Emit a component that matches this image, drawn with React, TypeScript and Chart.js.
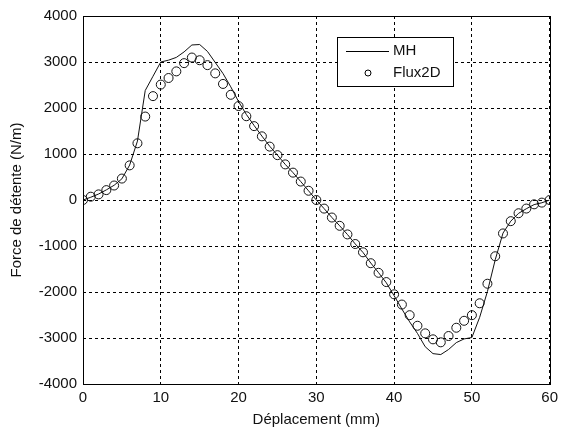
import React, { useEffect, useRef } from "react";
import { Chart, registerables } from "chart.js";

Chart.register(...registerables);

const displacement = [
  0, 1, 2, 3, 4, 5, 6, 7, 8, 9, 10, 11, 12, 13, 14, 15, 16, 17, 18, 19, 20,
  21, 22, 23, 24, 25, 26, 27, 28, 29, 30, 31, 32, 33, 34, 35, 36, 37, 38, 39, 40,
  41, 42, 43, 44, 45, 46, 47, 48, 49, 50, 51, 52, 53, 54, 55, 56, 57, 58, 59, 60,
];

const mhForce = [
  0, 60, 130, 220, 320, 460, 760, 1280, 2380, 2690, 3000,
  3040, 3100, 3220, 3370, 3380, 3230, 2990, 2750, 2460, 2140,
  1860, 1620, 1390, 1170, 975, 775, 595, 400, 200, 0,
  -187, -380, -560, -750, -955, -1140, -1370, -1580, -1800, -2080,
  -2370, -2650, -2900, -3190, -3340, -3360, -3250, -3100, -3020, -2990,
  -2550, -1990, -1300, -720, -460, -290, -190, -100, -60, 0,
];

const flux2dForce = [
  0, 72, 122, 215, 315, 466, 753, 1233, 1814, 2258, 2509,
  2652, 2796, 2975, 3097, 3039, 2932, 2753, 2523, 2287, 2043,
  1821, 1606, 1384, 1161, 975, 774, 595, 401, 201, 0,
  -187, -381, -561, -748, -957, -1137, -1374, -1583, -1784, -2050,
  -2273, -2504, -2734, -2899, -3029, -3094, -2957, -2777, -2626, -2504,
  -2245, -1820, -1223, -727, -460, -288, -186, -94, -57, 0,
];

const seriesLabels = ["MH", "Flux2D"];
const xTitle = "Déplacement (mm)";
const yTitle = "Force de détente (N/m)";

const FONT = "'Liberation Sans', Arial, sans-serif";

const boxAndLegend = {
  id: "boxAndLegend",
  afterDraw(chart: any) {
    const { ctx, chartArea } = chart;
    const { left, top, right, bottom } = chartArea;
    ctx.save();
    ctx.strokeStyle = "#000";
    ctx.lineWidth = 1;
    ctx.setLineDash([]);
    ctx.strokeRect(Math.round(left) + 0.5, Math.round(top) + 0.5, Math.round(right - left), Math.round(bottom - top));

    // legend box
    const lx = left + 254;
    const ly = top + 21;
    const lw = 116;
    const lh = 49;
    ctx.fillStyle = "#fff";
    ctx.fillRect(lx, ly, lw, lh);
    ctx.strokeRect(Math.round(lx) + 0.5, Math.round(ly) + 0.5, lw, lh);

    ctx.beginPath();
    ctx.moveTo(lx + 9, ly + 14.5);
    ctx.lineTo(lx + 52, ly + 14.5);
    ctx.stroke();

    ctx.beginPath();
    ctx.arc(lx + 31, ly + 36, 3, 0, Math.PI * 2);
    ctx.stroke();

    ctx.fillStyle = "#111";
    ctx.font = `15px ${FONT}`;
    ctx.textAlign = "left";
    ctx.textBaseline = "middle";
    ctx.fillText(seriesLabels[0], lx + 56, ly + 14);
    ctx.fillText(seriesLabels[1], lx + 56, ly + 36);
    ctx.restore();
  },
};

export default function App() {
  const ref = useRef<HTMLCanvasElement>(null);

  useEffect(() => {
    document.body.style.margin = "0";
    const canvas = ref.current!;
    const chart = new Chart(canvas, {
      type: "line",
      data: {
        datasets: [
          {
            label: seriesLabels[0],
            data: displacement.map((x, i) => ({ x, y: mhForce[i] })),
            borderColor: "#111",
            borderWidth: 1,
            pointRadius: 0,
            tension: 0,
            fill: false,
          },
          {
            label: seriesLabels[1],
            data: displacement.map((x, i) => ({ x, y: flux2dForce[i] })),
            showLine: false,
            pointStyle: "circle",
            pointRadius: 4.5,
            pointBorderWidth: 1,
            pointBorderColor: "#111",
            pointBackgroundColor: "rgba(0,0,0,0)",
          },
        ],
      },
      options: {
        animation: false,
        responsive: false,
        layout: { padding: { left: 0, top: 16, right: 11, bottom: 0 } },
        plugins: { legend: { display: false }, tooltip: { enabled: false } },
        scales: {
          x: {
            type: "linear",
            min: 0,
            max: 60,
            ticks: { stepSize: 10, color: "#111", padding: 5, font: { family: FONT, size: 15 }, callback: (v: any) => String(v) },
            grid: { color: "#000", drawTicks: false, lineWidth: 1 },
            border: { display: false, dash: [3, 3] },
            title: { display: true, text: xTitle, color: "#111", padding: { top: 0, bottom: 3 }, font: { family: FONT, size: 15 } },
            afterFit: (s: any) => { s.height = 48; },
          },
          y: {
            type: "linear",
            min: -4000,
            max: 4000,
            ticks: { stepSize: 1000, color: "#111", padding: 6, font: { family: FONT, size: 15 }, callback: (v: any) => String(v) },
            grid: { color: "#000", drawTicks: false, lineWidth: 1 },
            border: { display: false, dash: [3, 3] },
            title: { display: true, text: yTitle, color: "#111", padding: { top: 8, bottom: 0 }, font: { family: FONT, size: 15 } },
            afterFit: (s: any) => { s.width = 83; },
          },
        },
      },
      plugins: [boxAndLegend],
    });
    return () => chart.destroy();
  }, []);

  return <canvas ref={ref} width={563} height={432} style={{ display: "block" }} />;
}
